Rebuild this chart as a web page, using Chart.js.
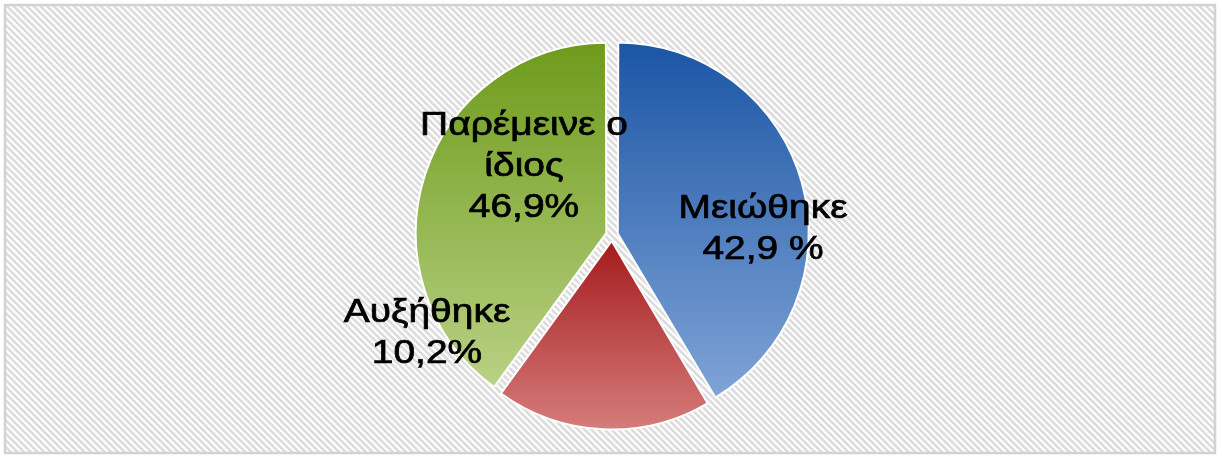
<!DOCTYPE html>
<html>
<head>
<meta charset="utf-8">
<title>Pie</title>
<script src="https://cdn.jsdelivr.net/npm/chart.js@4.4.1/dist/chart.umd.min.js"></script>
<style>
  html, body { margin: 0; padding: 0; background: #fff; }
  #wrap { width: 1222px; height: 457px; position: relative; }
</style>
</head>
<body>
<div id="wrap"><canvas id="pieChart"></canvas></div>
<script>
// slice order: clockwise from 12 o'clock
const categories = ['Μειώθηκε', 'Αυξήθηκε', 'Παρέμεινε ο ίδιος'];
const sliceValues = [41.5, 18.5, 40.0];
// label texts as printed on the chart
const labelLines = [
  ['Μειώθηκε', '42,9 %'],
  ['Αυξήθηκε', '10,2%'],
  ['Παρέμεινε ο', 'ίδιος', '46,9%']
];

// gradient stops (top, bottom) for each slice
const topColors = ['#1c56a5', '#a51b1d', '#6e9b1c'];
const bottomColors = ['#7fa3d6', '#d57c7a', '#b9d184'];
// where each label sits, relative to the pie centre (first baseline)
const labelAnchors = [[151, -17], [-185, 87], [-88, -100]];

const bgPlugin = {
  id: 'hatchBg',
  beforeDraw(chart) {
    const ctx = chart.ctx;
    const w = chart.width, h = chart.height;
    ctx.save();
    ctx.fillStyle = '#fff';
    ctx.fillRect(0, 0, w, h);
    const x0 = 5, y0 = 5, x1 = w - 7, y1 = h - 4;
    ctx.beginPath();
    ctx.rect(x0, y0, x1 - x0, y1 - y0);
    ctx.clip();
    ctx.strokeStyle = '#dcdcdc';
    ctx.lineWidth = 2.5;
    const span = y1 - y0;
    for (let k = x0 - span; k < x1; k += 6.7) {
      ctx.beginPath();
      ctx.moveTo(k, y0);
      ctx.lineTo(k + span, y1);
      ctx.stroke();
    }
    ctx.restore();
    ctx.save();
    ctx.strokeStyle = '#d2d2d2';
    ctx.lineWidth = 2.5;
    ctx.strokeRect(x0, y0, x1 - x0, y1 - y0);
    ctx.restore();
  }
};

// vertical gradient fitted to each slice's own bounds
const gradientPlugin = {
  id: 'sliceGradient',
  beforeDatasetsDraw(chart) {
    const ctx = chart.ctx;
    const meta = chart.getDatasetMeta(0);
    meta.data.forEach((arc, i) => {
      const p = arc.getProps(['x', 'y', 'startAngle', 'endAngle', 'outerRadius']);
      let ys = [p.y, p.y + Math.sin(p.startAngle) * p.outerRadius, p.y + Math.sin(p.endAngle) * p.outerRadius];
      [-Math.PI / 2, Math.PI / 2, 1.5 * Math.PI].forEach(a => {
        if (a > p.startAngle && a < p.endAngle) ys.push(p.y + Math.sin(a) * p.outerRadius);
      });
      const g = ctx.createLinearGradient(0, Math.min(...ys), 0, Math.max(...ys));
      g.addColorStop(0, topColors[i]);
      g.addColorStop(1, bottomColors[i]);
      arc.options.backgroundColor = g;
    });
  }
};

const labelPlugin = {
  id: 'sliceLabels',
  afterDatasetsDraw(chart) {
    const ctx = chart.ctx;
    const meta = chart.getDatasetMeta(0);
    const cx = (chart.chartArea.left + chart.chartArea.right) / 2;
    const cy = (chart.chartArea.top + chart.chartArea.bottom) / 2;
    const stretch = 1.18;
    ctx.save();
    ctx.font = '33px "Liberation Sans", Arial, sans-serif';
    ctx.fillStyle = '#000';
    ctx.strokeStyle = '#000';
    ctx.lineWidth = 0.7;
    ctx.textAlign = 'center';
    ctx.textBaseline = 'alphabetic';
    meta.data.forEach((arc, i) => {
      const [dx, dy] = labelAnchors[i];
      labelLines[i].forEach((line, j) => {
        ctx.save();
        ctx.translate(cx + dx, cy + dy + j * 41);
        ctx.scale(stretch, 1);
        ctx.fillText(line, 0, 0);
        ctx.strokeText(line, 0, 0);
        ctx.restore();
      });
    });
    ctx.restore();
  }
};

new Chart(document.getElementById('pieChart'), {
  type: 'pie',
  data: {
    labels: categories,
    datasets: [{
      data: sliceValues,
      backgroundColor: topColors,
      borderColor: '#ffffff',
      borderWidth: 2,
      offset: 24,
      radius: 188
    }]
  },
  options: {
    responsive: true,
    maintainAspectRatio: false,
    animation: false,
    layout: { padding: { left: 2, right: 0, top: 13, bottom: 0 } },
    plugins: {
      legend: { display: false },
      tooltip: { enabled: false }
    }
  },
  plugins: [bgPlugin, gradientPlugin, labelPlugin]
});
</script>
</body>
</html>
